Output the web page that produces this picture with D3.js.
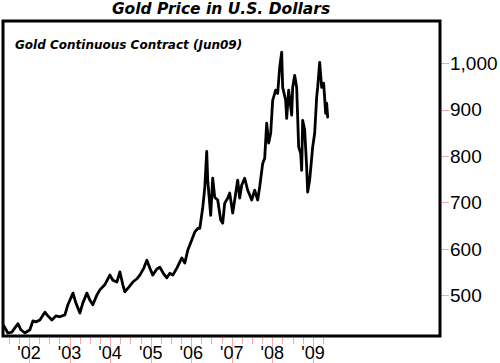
<!DOCTYPE html>
<html>
<head>
<meta charset="utf-8">
<script src="https://cdn.jsdelivr.net/npm/d3@7.9.0/dist/d3.min.js"></script>
<style>
  body { margin: 0; background: #fff; }
  svg { display: block; }
</style>
</head>
<body>
<svg id="chart" width="500" height="363"></svg>
<script>
// gold continuous contract
const dates = [
  "2001-05-20", "2001-06-25", "2001-07-31", "2001-08-27", "2001-09-23", "2001-10-20", "2001-11-25",
  "2002-01-09", "2002-02-05", "2002-03-04", "2002-04-09", "2002-05-24", "2002-06-20", "2002-07-26",
  "2002-08-31", "2002-10-06", "2002-11-20", "2002-12-17",
  "2003-02-01", "2003-02-27", "2003-04-04", "2003-05-01", "2003-06-06", "2003-07-03", "2003-07-30",
  "2003-09-04", "2003-10-01", "2003-11-14", "2003-12-30",
  "2004-01-26", "2004-03-02", "2004-03-29", "2004-04-25", "2004-05-13", "2004-06-18", "2004-07-24",
  "2004-08-29", "2004-09-25", "2004-10-31", "2004-11-27", "2004-12-24",
  "2005-01-20", "2005-02-25", "2005-03-24", "2005-04-29", "2005-05-26", "2005-06-22", "2005-07-19",
  "2005-08-24", "2005-10-08", "2005-11-04", "2005-12-01",
  "2006-01-06", "2006-02-02", "2006-03-01", "2006-03-19", "2006-04-15", "2006-05-03", "2006-05-20",
  "2006-05-29", "2006-06-25", "2006-07-13", "2006-07-31", "2006-08-27", "2006-09-23", "2006-10-11",
  "2006-10-29", "2006-11-25", "2006-12-13",
  "2007-01-09", "2007-01-27", "2007-02-23", "2007-03-13", "2007-03-31", "2007-04-27", "2007-05-24",
  "2007-06-11", "2007-06-29", "2007-07-26", "2007-08-22", "2007-09-09", "2007-10-06", "2007-10-24",
  "2007-11-11", "2007-11-29", "2007-12-17",
  "2008-01-04", "2008-01-31", "2008-02-18", "2008-03-07", "2008-03-25", "2008-04-03", "2008-04-30",
  "2008-05-09", "2008-05-27", "2008-06-23", "2008-07-02", "2008-07-20", "2008-08-07", "2008-08-25",
  "2008-09-12", "2008-09-21", "2008-09-30", "2008-10-18", "2008-11-05", "2008-11-14", "2008-12-02",
  "2008-12-29",
  "2009-01-16", "2009-02-03", "2009-02-12", "2009-03-02", "2009-03-20", "2009-04-07", "2009-04-25",
  "2009-05-04", "2009-05-13"
];
const prices = [
  433, 418, 420, 429, 438, 425, 418,
  425, 444, 442, 446, 463, 455, 446,
  455, 453, 457, 479,
  504, 483, 461, 483, 504, 489, 479,
  500, 511, 522, 543,
  532, 528, 550, 522, 507, 517, 528,
  535, 543, 558, 575, 558,
  543, 556, 560, 545, 537, 547, 543,
  558, 580, 569, 597,
  619, 636, 644, 644, 690, 733, 810,
  748, 672, 752, 711, 705, 662, 655,
  698, 709, 720,
  677, 705, 748, 709, 737, 752, 726,
  716, 705, 726, 705, 733, 784, 795,
  871, 828, 849,
  920, 942, 935, 991, 1024, 948, 920,
  881, 942, 888, 948, 974, 948, 819,
  806, 769, 877, 856, 776, 722, 748,
  819,
  849, 927, 948, 1002, 948, 957, 892,
  914, 884
];
const yTicks = [500, 600, 700, 800, 900, 1000];
const yearLabels = ["'02", "'03", "'04", "'05", "'06", "'07", "'08", "'09"];
const yearStarts = [2002, 2003, 2004, 2005, 2006, 2007, 2008, 2009];

const title = "Gold Price in U.S. Dollars";
const subtitle = "Gold Continuous Contract (Jun09)";

const parse = d3.timeParse("%Y-%m-%d");
const data = dates.map((d, i) => ({ date: parse(d), value: prices[i] }));

const svg = d3.select("#chart");
const pink = "#f6a9a9";

// box
const box = { left: 3, top: 21, right: 440, bottom: 336 };

let x = d3.scaleTime()
  .domain([new Date(2002, 0, 1), new Date(2009, 0, 1)])
  .range([29, 313]);
let y = d3.scaleLinear().domain([500, 1000]).range([295, 63.3]);

// quarterly minor ticks
const quarters = d3.timeMonth.every(3).range(new Date(2001, 6, 1), new Date(2009, 4, 1));
svg.append("g")
  .selectAll("line")
  .data(quarters)
  .join("line")
  .attr("x1", (d) => Math.round(x(d)) + 0.5)
  .attr("x2", (d) => Math.round(x(d)) + 0.5)
  .attr("y1", box.bottom)
  .attr("y2", box.bottom + 8)
  .attr("stroke", pink)
  .attr("stroke-width", 1);

// year ticks, long
let years = yearStarts.map((yr) => new Date(yr, 0, 1));
svg.append("g")
  .selectAll("line")
  .data(years)
  .join("line")
  .attr("x1", (d) => Math.round(x(d)) + 0.5)
  .attr("x2", (d) => Math.round(x(d)) + 0.5)
  .attr("y1", box.bottom)
  .attr("y2", 363)
  .attr("stroke", pink)
  .attr("stroke-width", 1);

svg.append("g")
  .selectAll("text")
  .data(years)
  .join("text")
  .attr("x", (d) => x(d))
  .attr("y", 359)
  .attr("text-anchor", "middle")
  .attr("font-family", "Liberation Sans, Arial, sans-serif")
  .attr("font-size", 18)
  .attr("fill", "#000")
  .text((d, i) => yearLabels[i]);

// y ticks on the right
svg.append("g")
  .selectAll("line")
  .data(yTicks)
  .join("line")
  .attr("x1", box.right)
  .attr("x2", box.right + 9)
  .attr("y1", (d) => Math.round(y(d)) + 0.5)
  .attr("y2", (d) => Math.round(y(d)) + 0.5)
  .attr("stroke", pink)
  .attr("stroke-width", 1);

svg.append("g")
  .selectAll("text")
  .data(yTicks)
  .join("text")
  .attr("x", box.right + 10)
  .attr("y", (d) => y(d))
  .attr("dy", "0.36em")
  .attr("font-family", "Liberation Sans, Arial, sans-serif")
  .attr("font-size", 19)
  .attr("fill", "#000")
  .text((d) => d3.format(",")(d));

// the line
const line = d3.line()
  .x((d) => x(d.date))
  .y((d) => y(d.value));

svg.append("path")
  .datum(data)
  .attr("d", line)
  .attr("fill", "none")
  .attr("stroke", "#000")
  .attr("stroke-width", 2.8)
  .attr("stroke-linejoin", "round")
  .attr("stroke-linecap", "round");

// frame
svg.append("rect")
  .attr("x", box.left)
  .attr("y", box.top)
  .attr("width", box.right - box.left)
  .attr("height", box.bottom - box.top)
  .attr("fill", "none")
  .attr("stroke", "#000")
  .attr("stroke-width", 3);

svg.append("text")
  .attr("x", 221)
  .attr("y", 14)
  .attr("text-anchor", "middle")
  .attr("font-family", "DejaVu Sans, Verdana, sans-serif")
  .attr("font-weight", "bold")
  .attr("font-style", "italic")
  .attr("font-size", 15.5)
  .text(title);

svg.append("text")
  .attr("x", 15)
  .attr("y", 49)
  .attr("font-family", "DejaVu Sans, Verdana, sans-serif")
  .attr("font-weight", "bold")
  .attr("font-style", "italic")
  .attr("font-size", 12)
  .text(subtitle);
</script>
</body>
</html>
